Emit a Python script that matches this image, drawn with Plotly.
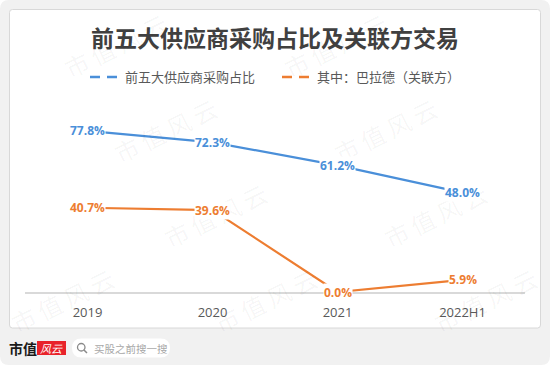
import plotly.graph_objects as go

# ---------------- data ----------------
categories = ["2019", "2020", "2021", "2022H1"]
top5_share = [77.8, 72.3, 61.2, 48.0]
ballard_share = [40.7, 39.6, 0.0, 5.9]
series_names = ["前五大供应商采购占比", "其中：巴拉德（关联方）"]
title_text = "前五大供应商采购占比及关联方交易"
watermark_text = "市\u2009值\u2009风\u2009云"
footer_brand = "市值"
footer_logo = "风云"
footer_search = "买股之前搜一搜"

# ---------------- geometry helpers (layout only) ----------------
W, H = 550, 365
ML, MR, MT, MB = 25, 25, 85, 73
PW = W - ML - MR
PH = H - MT - MB


def px(x):
    return (x - ML) / PW


def py(y):
    return (H - MB - y) / PH


def rrect(x0, y0, x1, y1, r):
    X, Y = px, py
    return (
        f"M {X(x0 + r)},{Y(y0)} L {X(x1 - r)},{Y(y0)} Q {X(x1)},{Y(y0)} {X(x1)},{Y(y0 + r)} "
        f"L {X(x1)},{Y(y1 - r)} Q {X(x1)},{Y(y1)} {X(x1 - r)},{Y(y1)} "
        f"L {X(x0 + r)},{Y(y1)} Q {X(x0)},{Y(y1)} {X(x0)},{Y(y1 - r)} "
        f"L {X(x0)},{Y(y0 + r)} Q {X(x0)},{Y(y0)} {X(x0 + r)},{Y(y0)} Z"
    )


BLUE = "#4A8FD9"
ORANGE = "#ED7D31"
FONT = "Open Sans, Noto Sans CJK SC, sans-serif"
CJK = "Noto Sans CJK SC, sans-serif"

fig = go.Figure()

# real series
for vals, color in [(top5_share, BLUE), (ballard_share, ORANGE)]:
    fig.add_trace(go.Scatter(
        x=categories, y=vals, mode="lines",
        line=dict(color=color, width=2.2),
        showlegend=False, cliponaxis=False, hoverinfo="skip",
    ))

# legend entries (dashed symbols as in the original)
fig.add_trace(go.Scatter(
    x=[None], y=[None], mode="lines", name=series_names[0],
    line=dict(color=BLUE, width=2.5, dash="10px,7px"), legend="legend",
))
fig.add_trace(go.Scatter(
    x=[None], y=[None], mode="lines", name=series_names[1],
    line=dict(color=ORANGE, width=2.5, dash="10px,7px"), legend="legend2",
))

annotations = []
# watermarks (kept fully on the canvas)
for j in range(-1, 3):
    for i in range(-2, 3):
        cx = 165 + 220 * i + 50 * j
        cy = 130 + 85 * j
        if 20 < cx < 530 and 20 < cy < 345:
            cx = min(max(cx, 62), 488)
            annotations.append(dict(
                x=px(cx), y=py(cy), xref="paper", yref="paper", text=watermark_text,
                showarrow=False, textangle=-26, xanchor="center", yanchor="middle",
                font=dict(family=CJK, size=24, color="rgba(0,0,0,0.045)"),
            ))

# data labels (x given as category index on the category axis)
for vals, color in [(top5_share, BLUE), (ballard_share, ORANGE)]:
    for idx, v in enumerate(vals):
        annotations.append(dict(
            x=idx, y=v, xref="x", yref="y", text=f"{v:.1f}%", showarrow=False,
            xanchor="center", yanchor="middle", bgcolor="white", borderpad=0,
            font=dict(family=FONT, size=12, color=color, weight="bold"),
        ))

# footer
annotations.append(dict(
    x=px(23), y=py(348), xref="paper", yref="paper", text=footer_brand, showarrow=False,
    xanchor="center", yanchor="middle",
    font=dict(family=CJK, size=14, color="#1a1a1a", weight="bold"),
))
annotations.append(dict(
    x=px(51.5), y=py(348), xref="paper", yref="paper", text=footer_logo, showarrow=False,
    xanchor="center", yanchor="middle",
    font=dict(family=CJK, size=11, color="white", style="italic"),
))
annotations.append(dict(
    x=px(92), y=py(348), xref="paper", yref="paper", text=footer_search, showarrow=False,
    xanchor="left", yanchor="middle",
    font=dict(family=CJK, size=10.5, color="#a8a8a8"),
))

shapes = [
    # outer grey card
    dict(type="path", xref="paper", yref="paper", path=rrect(0, 0, W, H, 9),
         fillcolor="#F1F1F1", line=dict(width=0), layer="below"),
    # white panel
    dict(type="path", xref="paper", yref="paper", path=rrect(9.5, 9.5, 540.5, 328, 3),
         fillcolor="white", line=dict(color="#D8D8D8", width=1), layer="below"),
    # red logo box
    dict(type="rect", xref="paper", yref="paper", x0=px(37), x1=px(66), y0=py(341), y1=py(355),
         fillcolor="#E8232A", line=dict(width=0), layer="below"),
    # search pill
    dict(type="path", xref="paper", yref="paper", path=rrect(72, 338.5, 170, 357.5, 9.5),
         fillcolor="white", line=dict(width=0), layer="below"),
    # magnifier
    dict(type="circle", xref="paper", yref="paper", x0=px(77.5), x1=px(85), y0=py(343.5), y1=py(351),
         line=dict(color="#8a8a8a", width=1.3), layer="below"),
    dict(type="line", xref="paper", yref="paper", x0=px(84), x1=px(87), y0=py(350), y1=py(353),
         line=dict(color="#8a8a8a", width=1.5), layer="below"),
]

fig.update_layout(
    width=W, height=H,
    margin=dict(l=ML, r=MR, t=MT, b=MB, pad=0),
    paper_bgcolor="white", plot_bgcolor="rgba(0,0,0,0)",
    title=dict(text=title_text, x=0.5, xanchor="center", xref="container",
               y=1 - 39 / H, yanchor="middle", yref="container",
               font=dict(family=CJK, size=23, color="#404040", weight="bold")),
    xaxis=dict(type="category", range=[-0.5, 3.5], showline=True, linecolor="#D9D9D9",
               linewidth=1.5, showgrid=False, zeroline=False, ticks="",
               tickfont=dict(family=FONT, size=13, color="#595959"), ticklabelstandoff=8),
    yaxis=dict(range=[0, 100], visible=False, showgrid=False, zeroline=False),
    legend=dict(orientation="h", x=px(85), y=py(77), xanchor="left", yanchor="middle",
                bgcolor="rgba(0,0,0,0)", font=dict(family=CJK, size=13, color="#595959")),
    legend2=dict(orientation="h", x=px(277), y=py(77), xanchor="left", yanchor="middle",
                 bgcolor="rgba(0,0,0,0)", font=dict(family=CJK, size=13, color="#595959")),
    annotations=annotations,
    shapes=shapes,
    showlegend=True,
)

fig.write_html(
    "out.html",
    config={"displayModeBar": False},
    post_script="document.body.style.margin='0';document.body.style.overflow='hidden';",
)
